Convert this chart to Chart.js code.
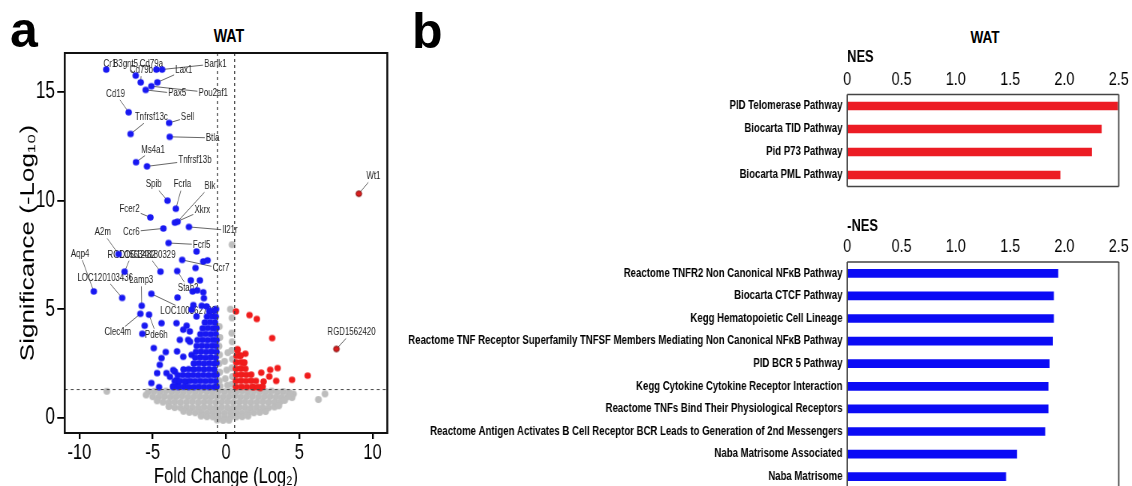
<!DOCTYPE html>
<html>
<head>
<meta charset="utf-8">
<script src="https://cdn.jsdelivr.net/npm/chart.js@4.4.1/dist/chart.umd.min.js"></script>
<style>
  html, body { margin: 0; padding: 0; background: #fff; width: 1132px; height: 486px; overflow: hidden; }
  body { position: relative; font-family: 'Liberation Sans', Arial, sans-serif; }
  canvas { position: absolute; transform-origin: 0 0; }
  .txt { position: absolute; white-space: nowrap; font-weight: bold; color: #000; }
</style>
</head>
<body>
<div class="txt" style="left:10px;top:5px;font-size:50px;line-height:50px;">a</div>
<div class="txt" style="left:412px;top:6px;font-size:50px;line-height:50px;">b</div>
<div class="txt" style="left:179px;top:26px;width:100px;text-align:center;font-size:19px;line-height:19px;transform:scaleX(0.75);">WAT</div>
<div class="txt" style="left:935px;top:29px;width:100px;text-align:center;font-size:17px;line-height:17px;transform:scaleX(0.8);">WAT</div>

<canvas id="volcano" width="534" height="490" style="left:0;top:0;width:534px;height:490px;transform:scaleX(0.75);"></canvas>
<canvas id="nesUp" width="915" height="190" style="left:400px;top:0;width:915px;height:190px;transform:scaleX(0.8);"></canvas>
<canvas id="nesDown" width="915" height="292" style="left:400px;top:200px;width:915px;height:292px;transform:scaleX(0.8);"></canvas>

<script>
// ---- panel a : volcano (fold change log2 / -log10 p) ----
const fcCutoff = 0.585;
const pCutoff = 1.3;

// labelled genes
const geneNames = ['Cr1', 'B3gnt5', 'Cd79a', 'Cd79b', 'Bank1', 'Lax1', 'Pou2af1', 'Pax5', 'Cd19', 'Tnfrsf13c',
  'Sell', 'Btla', 'Ms4a1', 'Tnfrsf13b', 'Spib', 'Fcrla', 'Blk', 'Xkrx', 'Fcer2', 'Ccr6',
  'Il21r', 'Fcrl5', 'A2m', 'RGD1563482', 'LOC120180329', 'Aqp4', 'LOC120103436', 'Lamp3', 'Stab2', 'LOC100362780',
  'Clec4m', 'Pde6h', 'Ccr7', 'Wt1', 'RGD1562420'];
const geneFC = [-8.17, -6.16, -4.75, -5.82, -4.36, -4.68, -5.09, -5.48, -6.64, -6.51,
  -3.88, -3.84, -6.14, -5.39, -3.99, -3.42, -3.31, -3.49, -5.16, -4.27,
  -2.53, -3.92, -7.33, -6.92, -4.47, -9.02, -7.08, -5.75, -3.33, -5.09,
  -5.84, -5.25, -2.99, 9.06, 7.53];
const geneSig = [16.04, 15.76, 16.04, 15.45, 16.04, 15.45, 15.27, 15.10, 14.07, 13.07,
  13.58, 12.94, 11.77, 11.58, 10.00, 9.63, 9.03, 8.99, 9.23, 8.72,
  8.79, 8.05, 7.54, 6.73, 6.73, 5.82, 5.52, 5.16, 6.76, 5.71,
  4.79, 4.75, 7.27, 10.32, 3.17];
// where each gene name is written (axis units)
const labelFC = [-7.92, -6.85, -5.09, -5.77, -0.73, -2.88, -0.87, -3.33, -7.53, -5.09,
  -2.62, -0.91, -4.98, -2.12, -4.93, -2.97, -1.10, -1.62, -6.58, -6.46,
  0.27, -1.66, -8.40, -6.44, -5.34, -9.95, -8.24, -5.78, -2.58, -2.58,
  -7.38, -4.75, -0.34, 10.05, 8.56];
const labelSig = [16.30, 16.30, 16.30, 16.01, 16.30, 15.99, 14.96, 14.93, 14.92, 13.84,
  13.84, 12.89, 12.35, 11.86, 10.74, 10.74, 10.66, 9.55, 9.63, 8.57,
  8.63, 7.97, 8.54, 7.51, 7.51, 7.54, 6.44, 6.33, 5.97, 4.90,
  3.93, 3.82, 6.88, 11.12, 3.93];

// down-regulated genes (blue)
const downGenes = [
  [-2.01, 7.66], [-1.55, 7.20], [-1.26, 7.25], [-2.08, 6.90], [-2.40, 6.33], [-1.78, 6.33], [-2.28, 5.82],
  [-1.96, 5.87], [-1.55, 5.78], [-3.31, 5.54], [-1.51, 5.51], [-1.66, 5.16], [-1.32, 5.13], [-0.68, 5.01],
  [-1.14, 4.90], [-4.40, 4.36], [-3.38, 4.36], [-2.69, 4.24], [-5.55, 4.24], [-4.93, 3.21], [-4.11, 3.03],
  [-4.40, 2.75], [-4.52, 2.44], [-4.70, 2.06], [-5.09, 1.60], [-4.57, 1.41], [-3.49, 2.13], [-3.27, 1.60],
  [-2.74, 1.64], [-3.34, 3.06], [-3.15, 3.59], [-2.58, 3.59], [-2.35, 2.90], [-2.92, 4.06], [-2.47, 3.98],
  [-4.06, 2.06], [-3.61, 1.45], [-2.01, 4.67], [-2.35, 4.98], [-5.71, 3.87], [-2.23, 5.19], [-2.46, 3.50],
  [-2.92, 2.81], [-3.82, 1.89], [-3.37, 1.74], [-3.60, 2.20],
  [-3.6, 1.42], [-3.25, 1.42], [-2.9, 1.43], [-2.55, 1.42], [-2.2, 1.42], [-1.85, 1.43], [-1.5, 1.42],
  [-1.15, 1.42], [-0.8, 1.42], [-0.65, 1.44],
  [-3.5, 1.69], [-3.15, 1.7], [-2.8, 1.69], [-2.45, 1.7], [-2.1, 1.69], [-1.75, 1.7], [-1.4, 1.69],
  [-1.05, 1.7], [-0.7, 1.69],
  [-3.3, 1.96], [-2.95, 1.97], [-2.6, 1.96], [-2.25, 1.97], [-1.9, 1.96], [-1.55, 1.97], [-1.2, 1.96],
  [-0.85, 1.97], [-0.65, 1.98],
  [-2.9, 2.23], [-2.55, 2.24], [-2.2, 2.23], [-1.85, 2.24], [-1.5, 2.23], [-1.15, 2.24], [-0.8, 2.23],
  [-2.2, 2.5], [-1.85, 2.51], [-1.5, 2.5], [-1.15, 2.51], [-0.8, 2.5], [-0.65, 2.52],
  [-2.1, 2.77], [-1.75, 2.78], [-1.4, 2.77], [-1.05, 2.78], [-0.7, 2.77],
  [-2.05, 3.04], [-1.7, 3.05], [-1.35, 3.04], [-1.0, 3.05], [-0.66, 3.04],
  [-2.0, 3.31], [-1.65, 3.32], [-1.3, 3.31], [-0.95, 3.32], [-0.68, 3.31],
  [-1.95, 3.58], [-1.6, 3.59], [-1.25, 3.58], [-0.9, 3.59], [-0.65, 3.58],
  [-1.75, 3.85], [-1.4, 3.86], [-1.05, 3.85], [-0.7, 3.86],
  [-1.6, 4.12], [-1.25, 4.13], [-0.9, 4.12], [-0.66, 4.13],
  [-1.45, 4.39], [-1.1, 4.4], [-0.75, 4.39],
  [-1.3, 4.66], [-0.95, 4.67], [-0.7, 4.66],
  [-1.1, 4.93], [-0.75, 4.94]
];

// up-regulated genes (red)
const upGenes = [
  [0.68, 4.90], [1.60, 4.73], [2.10, 4.55], [3.15, 3.67], [0.78, 3.16], [1.32, 2.95], [3.52, 2.29],
  [2.40, 2.08], [2.95, 1.90], [4.50, 1.75], [5.57, 1.94], [3.42, 1.70], [3.01, 2.21], [2.56, 1.67],
  [1.87, 1.40], [2.33, 1.37], [1.20, 2.52], [0.97, 2.86],
  [0.68, 1.42], [1.05, 1.43], [1.42, 1.42], [1.79, 1.43], [2.16, 1.42], [2.5, 1.44],
  [0.68, 1.7], [1.02, 1.71], [1.36, 1.7], [1.7, 1.71], [2.04, 1.7],
  [0.7, 1.98], [1.04, 1.99], [1.38, 1.98], [1.72, 1.99],
  [0.68, 2.26], [1.0, 2.27], [1.32, 2.26],
  [0.7, 2.55], [1.02, 2.56], [1.25, 2.55],
  [0.72, 2.85], [0.98, 2.86], [0.78, 3.1]
];

// not significant (grey)
const otherGenes = [
  [-5.3, 1.2], [-4.9, 1.22], [-4.5, 1.18], [-4.1, 1.23], [-3.7, 1.2], [-3.3, 1.22], [-2.9, 1.19], [-2.5, 1.22],
  [-2.1, 1.2], [-1.7, 1.23], [-1.3, 1.21], [-0.9, 1.2], [-0.5, 1.23], [-0.1, 1.2], [0.3, 1.22], [0.7, 1.2],
  [1.1, 1.23], [1.5, 1.19], [1.9, 1.22], [2.3, 1.2], [2.7, 1.21], [3.1, 1.23], [3.5, 1.18], [3.9, 1.21],
  [4.3, 1.17], [4.6, 1.1],
  [-5.0, 0.97], [-4.6, 0.95], [-4.2, 0.98], [-3.8, 0.96], [-3.4, 0.97], [-3.0, 0.99], [-2.6, 0.96], [-2.2, 0.97],
  [-1.8, 0.98], [-1.4, 0.96], [-1.0, 0.97], [-0.6, 0.98], [-0.2, 0.96], [0.2, 0.97], [0.6, 0.99], [1.0, 0.96],
  [1.4, 0.97], [1.8, 0.98], [2.2, 0.96], [2.6, 0.97], [3.0, 0.98], [3.4, 0.96], [3.8, 0.95], [4.2, 0.97], [4.5, 0.93],
  [-4.7, 0.78], [-4.3, 0.72], [-3.9, 0.7], [-3.5, 0.73], [-3.1, 0.71], [-2.7, 0.72], [-2.3, 0.74], [-1.9, 0.71],
  [-1.5, 0.72], [-1.1, 0.73], [-0.7, 0.71], [-0.3, 0.72], [0.1, 0.74], [0.5, 0.71], [0.9, 0.72], [1.3, 0.73],
  [1.7, 0.71], [2.1, 0.72], [2.5, 0.74], [2.9, 0.71], [3.3, 0.72], [3.7, 0.74], [4.0, 0.8],
  [-3.9, 0.52], [-3.5, 0.47], [-3.1, 0.46], [-2.7, 0.48], [-2.3, 0.47], [-1.9, 0.46], [-1.5, 0.48], [-1.1, 0.47],
  [-0.7, 0.46], [-0.3, 0.48], [0.1, 0.47], [0.5, 0.46], [0.9, 0.48], [1.3, 0.47], [1.7, 0.46], [2.1, 0.48],
  [2.5, 0.47], [2.9, 0.46], [3.3, 0.5], [3.6, 0.55],
  [-2.9, 0.3], [-2.5, 0.25], [-2.1, 0.23], [-1.7, 0.24], [-1.3, 0.22], [-0.9, 0.24], [-0.5, 0.23], [-0.1, 0.22],
  [0.3, 0.24], [0.7, 0.23], [1.1, 0.22], [1.5, 0.24], [1.9, 0.23], [2.3, 0.25], [2.7, 0.29],
  [-1.7, 0.08], [-1.3, 0.05], [-0.9, 0.04], [-0.5, 0.03], [-0.1, 0.02], [0.3, 0.03], [0.7, 0.04], [1.1, 0.05], [1.5, 0.08],
  [-0.6, -0.1], [-0.2, -0.12], [0.2, -0.11],
  [-0.46, 4.2], [-0.42, 3.7], [-0.48, 3.3], [-0.44, 2.9], [-0.47, 2.5], [-0.43, 2.1], [-0.45, 1.7], [-0.4, 1.45],
  [-0.1, 2.6], [0.05, 2.2], [-0.05, 1.8], [0.1, 1.5], [0.12, 3.0],
  [0.41, 4.6], [0.39, 3.9], [0.42, 3.5], [0.38, 3.1], [0.43, 2.7], [0.4, 2.3], [0.44, 1.9], [0.41, 1.55],
  [0.41, 7.97], [0.3, 5.0],
  [-8.13, 1.22], [-5.45, 1.05], [6.3, 0.84], [6.75, 1.1], [4.36, 1.05]
];

// ---- panel b : GSEA normalised enrichment scores ----
const nesTickLabels = ['0', '0.5', '1.0', '1.5', '2.0', '2.5'];
const upPathways = ['PID Telomerase Pathway', 'Biocarta TID Pathway', 'Pid P73 Pathway', 'Biocarta PML Pathway'];
const upNES = [2.49, 2.34, 2.25, 1.96];
const downPathways = [
  'Reactome TNFR2 Non Canonical NFκB Pathway',
  'Biocarta CTCF Pathway',
  'Kegg Hematopoietic Cell Lineage',
  'Reactome TNF Receptor Superfamily TNFSF Members Mediating Non Canonical NFκB Pathway',
  'PID BCR 5 Pathway',
  'Kegg Cytokine Cytokine Receptor Interaction',
  'Reactome TNFs Bind Their Physiological Receptors',
  'Reactome Antigen Activates B Cell Receptor BCR Leads to Generation of 2nd Messengers',
  'Naba Matrisome Associated',
  'Naba Matrisome'
];
const downNES = [1.94, 1.90, 1.90, 1.89, 1.86, 1.85, 1.85, 1.82, 1.56, 1.46];

const SA = 0.75;  // horizontal squeeze of panel a
const SB = 0.8;   // horizontal squeeze of panel b
const FONT = "'Liberation Sans', Arial, sans-serif";

// round dots that stay round once the canvas is squeezed
function makeDot(color, r, s, edge) {
  const c = document.createElement('canvas');
  const rx = r / s;
  c.width = Math.ceil(rx * 2) + 2;
  c.height = Math.ceil(r * 2) + 2;
  const g = c.getContext('2d');
  g.beginPath();
  g.ellipse(c.width / 2, c.height / 2, edge ? rx - 0.6 : rx, edge ? r - 0.6 : r, 0, 0, Math.PI * 2);
  g.fillStyle = color;
  g.fill();
  if (edge) {
    g.lineWidth = 1;
    g.strokeStyle = edge;
    g.stroke();
  }
  return c;
}

const blueDot = makeDot('#1818f2', 3.2, SA);
const redDot = makeDot('#f01c1c', 3.2, SA);
const greyDot = makeDot('#bdbdbd', 3.4, SA);
const darkRedDot = makeDot('#d91e1e', 3.4, SA, '#7a0c0c');

const toXY = arr => arr.map(p => ({ x: p[0], y: p[1] }));

const volcanoDecor = {
  id: 'volcanoDecor',
  beforeDatasetsDraw(chart) {
    const { ctx, scales: { x, y } } = chart;
    ctx.save();
    ctx.font = '10.5px ' + FONT;
    ctx.textAlign = 'center';
    ctx.textBaseline = 'middle';
    geneNames.forEach((name, i) => {
      const px = x.getPixelForValue(geneFC[i]);
      const py = y.getPixelForValue(geneSig[i]);
      const lx = x.getPixelForValue(labelFC[i]);
      const ly = y.getPixelForValue(labelSig[i]);
      const hw = ctx.measureText(name).width / 2 + 1.5;
      const hh = 6;
      const dx = px - lx, dy = py - ly;
      const t = Math.min(dx ? hw / Math.abs(dx) : Infinity, dy ? hh / Math.abs(dy) : Infinity);
      if (t < 1) {
        ctx.beginPath();
        ctx.moveTo(lx + dx * t, ly + dy * t);
        ctx.lineTo(px, py);
        ctx.strokeStyle = '#555';
        ctx.lineWidth = 0.9;
        ctx.stroke();
      }
      ctx.fillStyle = '#222';
      ctx.fillText(name, lx, ly);
    });
    ctx.restore();
  },
  afterDatasetsDraw(chart) {
    const { ctx, chartArea: a, scales: { x, y } } = chart;
    ctx.save();
    ctx.strokeStyle = '#444';
    ctx.lineWidth = 1.5;
    ctx.setLineDash([3, 3]);
    [-fcCutoff, fcCutoff].forEach(v => {
      const px = x.getPixelForValue(v);
      ctx.beginPath();
      ctx.moveTo(px, a.top);
      ctx.lineTo(px, a.bottom);
      ctx.stroke();
    });
    ctx.lineWidth = 1;
    ctx.setLineDash([4, 4]);
    const py = y.getPixelForValue(pCutoff);
    ctx.beginPath();
    ctx.moveTo(a.left, py);
    ctx.lineTo(a.right, py);
    ctx.stroke();
    ctx.restore();
  },
  afterDraw(chart) {
    const { ctx, chartArea: a } = chart;
    ctx.save();
    ctx.strokeStyle = '#111';
    ctx.lineWidth = 2;
    ctx.beginPath();
    ctx.moveTo(a.left, a.top); ctx.lineTo(a.right, a.top);
    ctx.moveTo(a.left, a.bottom); ctx.lineTo(a.right, a.bottom);
    ctx.stroke();
    ctx.lineWidth = 2.6;
    ctx.beginPath();
    ctx.moveTo(a.left, a.top - 1); ctx.lineTo(a.left, a.bottom + 1);
    ctx.moveTo(a.right, a.top - 1); ctx.lineTo(a.right, a.bottom + 1);
    ctx.stroke();
    ctx.restore();
  }
};

new Chart(document.getElementById('volcano'), {
  type: 'scatter',
  data: {
    datasets: [
      {
        data: geneNames.map((n, i) => ({ x: geneFC[i], y: geneSig[i] })),
        pointStyle: c => geneFC[c.dataIndex] > 0 ? darkRedDot : blueDot,
        pointRadius: 3,
        order: 0
      },
      { data: toXY(upGenes), pointStyle: redDot, pointRadius: 3, order: 1 },
      { data: toXY(downGenes), pointStyle: blueDot, pointRadius: 3, order: 1 },
      { data: toXY(otherGenes), pointStyle: greyDot, pointRadius: 3, order: 2 }
    ]
  },
  options: {
    responsive: false,
    animation: false,
    devicePixelRatio: 1,
    layout: { autoPadding: false, padding: { left: 17, right: 17.6, top: 53, bottom: 0 } },
    plugins: { legend: { display: false }, tooltip: { enabled: false } },
    scales: {
      x: {
        type: 'linear',
        min: -11,
        max: 11,
        ticks: { stepSize: 5, includeBounds: false, font: { family: FONT, size: 22 }, color: '#000', padding: 1 },
        grid: { drawOnChartArea: false, drawTicks: true, tickLength: 6, color: '#000', lineWidth: 2.4 },
        border: { display: false },
        title: { display: true, text: 'Fold Change (Log₂)', font: { family: FONT, size: 22 }, color: '#000', padding: 0 },
        afterFit: s => { s.height = 57; }
      },
      y: {
        min: -0.7,
        max: 16.8,
        ticks: { stepSize: 5, includeBounds: false, font: { family: FONT, size: 23 }, color: '#000', padding: 3 },
        grid: { drawOnChartArea: false, drawTicks: true, tickLength: 10, color: '#000', lineWidth: 1.8 },
        border: { display: false },
        title: { display: true, text: 'Significance (-Log₁₀)', font: { family: FONT, size: 26 }, color: '#000', padding: { top: 5, bottom: 0 } },
        afterFit: s => { s.width = 69.3; }
      }
    }
  },
  plugins: [volcanoDecor]
});

// box round the bar charts
const nesBox = {
  id: 'nesBox',
  afterDraw(chart) {
    const { ctx, chartArea: a } = chart;
    ctx.save();
    ctx.strokeStyle = '#444';
    ctx.lineWidth = 1.3;
    ctx.beginPath();
    ctx.moveTo(a.left, a.top); ctx.lineTo(a.right, a.top);
    ctx.moveTo(a.left, a.bottom); ctx.lineTo(a.right, a.bottom);
    ctx.stroke();
    ctx.lineWidth = 1.7;
    ctx.beginPath();
    ctx.moveTo(a.left, a.top); ctx.lineTo(a.left, a.bottom);
    ctx.moveTo(a.right, a.top); ctx.lineTo(a.right, a.bottom);
    ctx.stroke();
    ctx.restore();
  }
};

function nesChart(id, labels, values, color, title, padTop, axisHeight, padBottom) {
  return new Chart(document.getElementById(id), {
    type: 'bar',
    data: {
      labels: labels,
      datasets: [{ data: values, backgroundColor: color, borderWidth: 0, barThickness: 8 }]
    },
    options: {
      indexAxis: 'y',
      responsive: false,
      animation: false,
      devicePixelRatio: 1,
      layout: { autoPadding: false, padding: { left: 0, right: 15.9, top: padTop, bottom: padBottom } },
      plugins: { legend: { display: false }, tooltip: { enabled: false } },
      scales: {
        x: {
          position: 'top',
          min: 0,
          max: 2.5,
          ticks: {
            stepSize: 0.5,
            includeBounds: false,
            callback: (v, i) => nesTickLabels[i],
            font: { family: FONT, size: 18 },
            color: '#000',
            padding: 4
          },
          grid: { display: false, drawTicks: false },
          border: { display: false },
          title: { display: true, text: title, align: 'start', font: { family: FONT, size: 16, weight: 'bold' }, color: '#000', padding: 0 },
          afterFit: s => { s.height = axisHeight; }
        },
        y: {
          ticks: { font: { family: FONT, size: 12, weight: 'bold' }, color: '#000', padding: 6, autoSkip: false },
          grid: { display: false, drawTicks: false },
          border: { display: false },
          afterFit: s => { s.width = 559.1; s.paddingTop = 0; s.paddingBottom = 0; }
        }
      }
    },
    plugins: [nesBox]
  });
}

nesChart('nesUp', upPathways, upNES, '#ec1c24', 'NES', 48, 46.5, 3.5);
nesChart('nesDown', downPathways, downNES, '#0b0bf5', '-NES', 17, 45, 4);
</script>
</body>
</html>
